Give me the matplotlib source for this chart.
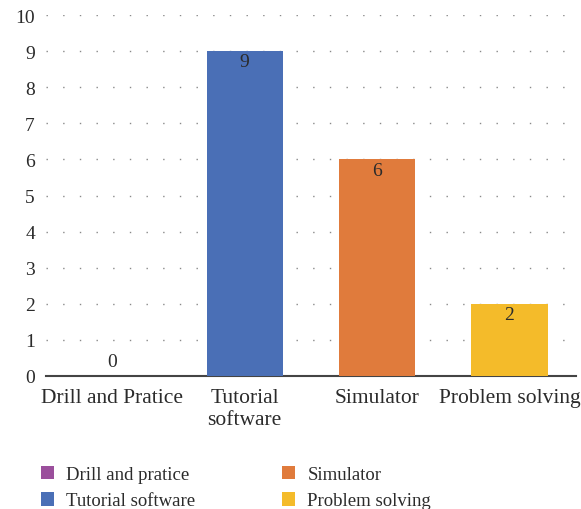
import matplotlib
matplotlib.use("Agg")
import matplotlib.pyplot as plt
from matplotlib.patches import Patch

categories = ["Drill and Pratice", "Tutorial\nsoftware", "Simulator", "Problem solving"]
values = [0, 9, 6, 2]
legend_labels = ["Drill and pratice", "Tutorial software", "Simulator", "Problem solving"]
colors = ["#9b4f9c", "#4a6fb6", "#e07b3c", "#f4bb2a"]
yticks = list(range(0, 11))

plt.rcParams['font.family'] = ['Liberation Serif', 'DejaVu Serif']
text_color = "#2b2b2b"

fig = plt.figure(figsize=(5.81, 5.10), dpi=100)
ax = fig.add_axes([0.0792, 0.2608, 0.9118, 0.7078])

x = list(range(len(categories)))
ax.bar(x, values, width=0.575, color=colors, zorder=3)
for xi, v in zip(x, values):
    if v > 0:
        ax.text(xi, v - 0.3, str(v), ha='center', va='center', fontsize=14, color=text_color, zorder=4)
    else:
        ax.text(xi, v + 0.4, str(v), ha='center', va='center', fontsize=14, color=text_color, zorder=4)

ax.set_xlim(-0.5, 3.5)
ax.set_ylim(0, 10)
ax.set_yticks(yticks)
ax.set_yticklabels([str(t) for t in yticks], fontsize=14, color=text_color)
ax.set_xticks(x)
ax.set_xticklabels(categories, fontsize=15.5, color=text_color, linespacing=1.2)
ax.tick_params(axis='both', length=0)
ax.tick_params(axis='x', pad=9)
ax.tick_params(axis='y', pad=8)

for t in yticks[1:]:
    ax.axhline(t, color="#8a8a8a", linewidth=1.0, linestyle=(0, (1, 11)), zorder=1)

for s in ['top', 'right', 'left']:
    ax.spines[s].set_visible(False)
ax.spines['bottom'].set_color("#444444")
ax.spines['bottom'].set_linewidth(1.5)

handles = [Patch(facecolor=c, edgecolor='none') for c in colors]
fig.legend(handles, legend_labels, ncol=2, loc='upper left', bbox_to_anchor=(0.07, 0.085),
           frameon=False, fontsize=13.5, handlelength=0.72, handleheight=0.72,
           handletextpad=0.65, columnspacing=4.6, labelspacing=0.5, labelcolor=text_color,
           borderaxespad=0, borderpad=0)

fig.savefig("out.png", dpi=100)
